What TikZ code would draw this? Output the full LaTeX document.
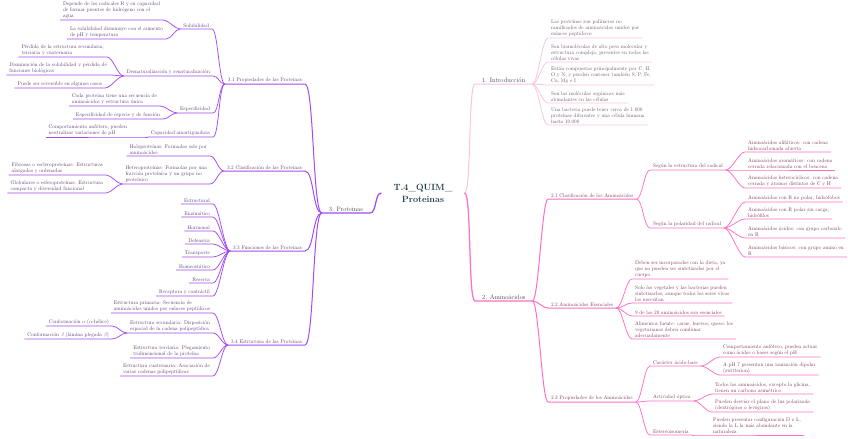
\documentclass[tikz,border=0pt]{standalone}
\usepackage{tikz}
\usetikzlibrary{positioning}
\definecolor{purl}{HTML}{A34BF0}
\definecolor{purt}{HTML}{5B3A6E}
\definecolor{pnkl}{HTML}{FF6FC3}
\definecolor{pnkt}{HTML}{7A3558}
\definecolor{lite}{HTML}{F8C3DF}
\definecolor{litt}{HTML}{6B5565}
\definecolor{corec}{HTML}{1E3A4C}
\definecolor{dark}{HTML}{3A3A3A}

\begin{document}
\begin{tikzpicture}[
    x=2pt,y=-2pt,
    hub/.style={align=center,font=\fontsize{18}{24}\selectfont\bfseries,text=corec,inner xsep=24pt},
    topl/.style={anchor=south east,align=left,font=\fontsize{13}{15}\selectfont,text=dark,inner xsep=14pt,inner ysep=3pt},
    topr/.style={topl,anchor=south west},
    lt/.style={anchor=south east,align=left,font=\fontsize{10.4}{12}\selectfont,text=purt,inner xsep=6pt,inner ysep=3pt},
    rt/.style={lt,anchor=south west,text=pnkt},
    it/.style={rt,text=litt},
    ledge/.style={draw=purl,line width=1.5pt,out=180,in=0,distance=12pt},
    redge/.style={draw=pnkl,line width=1.5pt,out=0,in=180,distance=12pt},
    iedge/.style={redge,draw=lite}
]
\useasboundingbox (0,0) rectangle (848,438);

\node[hub] (top) at (423,193) {T.4\_QUIM\_\\Proteinas};

\node[topl] (prot) at (370,213) {3. Proteinas};
\node[lt] (p31) at (305,84) {3.1 Propiedades de las Proteinas};
\node[lt] (sol) at (212,29) {Solubilidad};
\node[lt] (sol1) at (163,20) {Depende de los radicales R y su capacidad\\de formar puentes de hidrógeno con el\\agua};
\node[lt] (sol2) at (166,39) {La solubilidad disminuye con el aumento\\de pH y temperatura};
\node[lt] (des) at (213,76) {Desnaturalización y renaturalización};
\node[lt] (des1) at (107,57) {Pérdida de la estructura secundaria,\\terciaria y cuaternaria};
\node[lt] (des2) at (110,75) {Disminución de la solubilidad y pérdida de\\funciones biológicas};
\node[lt] (des3) at (105,88) {Puede ser reversible en algunos casos};
\node[lt] (esp) at (213,113) {Especificidad};
\node[lt] (esp1) at (160,106) {Cada proteína tiene una secuencia de\\aminoácidos y estructura única};
\node[lt] (esp2) at (163,119) {Especificidad de especie y de función};
\node[lt] (amo) at (213,137) {Capacidad amortiguadora};
\node[lt] (amo1) at (130,137) {Comportamiento anfótero, pueden\\neutralizar variaciones de pH};

\node[lt] (p32) at (305,171) {3.2 Clasificación de las Proteinas};
\node[lt] (holo) at (210,156) {Holoproteínas: Formadas solo por\\aminoácidos};
\node[lt] (hete) at (210,184) {Heteroproteínas: Formadas por una\\fracción proteínica y un grupo no\\proteínico};
\node[lt] (fib) at (106,175) {Fibrosas o escleroproteínas: Estructuras\\alargadas y ordenadas};
\node[lt] (glo) at (106,193) {Globulares o esferoproteínas: Estructura\\compacta y diversidad funcional};

\node[lt] (p33) at (305,251) {3.3 Funciones de las Proteinas};
\node[lt] (f1) at (213,204) {Estructural};
\node[lt] (f2) at (213,217) {Enzimático};
\node[lt] (f3) at (213,231) {Hormonal};
\node[lt] (f4) at (213,244) {Defensiva};
\node[lt] (f5) at (213,257) {Transporte};
\node[lt] (f6) at (213,270) {Homeostático};
\node[lt] (f7) at (213,283) {Reserva};
\node[lt] (f8) at (213,296) {Receptora y contráctil};

\node[lt] (p34) at (305,345) {3.4 Estructura de las Proteinas};
\node[lt] (e1) at (213,313) {Estructura primaria: Secuencia de\\aminoácidos unidos por enlaces peptídicos};
\node[lt] (e2) at (213,333) {Estructura secundaria: Disposición\\espacial de la cadena polipeptídica};
\node[lt] (e2a) at (112,326) {Conformación $\alpha$ ($\alpha$-hélice)};
\node[lt] (e2b) at (112,339) {Conformación $\beta$ (lámina plegada $\beta$)};
\node[lt] (e3) at (213,358) {Estructura terciaria: Plegamiento\\tridimensional de la proteína};
\node[lt] (e4) at (213,376) {Estructura cuaternaria: Asociación de\\varias cadenas polipeptídicas};

\node[topr] (intro) at (475,84) {1. Introducción};
\node[it] (i1) at (548,38) {Las proteínas son polímeros no\\ramificados de aminoácidos unidos por\\enlaces peptídicos};
\node[it] (i2) at (548,62) {Son biomoléculas de alto peso molecular y\\estructura compleja, presentes en todas las\\células vivas};
\node[it] (i3) at (548,85) {Están compuestas principalmente por C, H,\\O y N, y pueden contener también S, P, Fe,\\Cu, Mg e I};
\node[it] (i4) at (548,103) {Son las moléculas orgánicas más\\abundantes en las células};
\node[it] (i5) at (548,125) {Una bacteria puede tener cerca de 1.000\\proteínas diferentes y una célula humana\\hasta 10.000};

\node[topr] (amino) at (475,301) {2. Aminoácidos};
\node[rt] (a21) at (548,199) {2.1 Clasificación de los Aminoácidos};
\node[rt] (rad) at (650,170) {Según la estructura del radical};
\node[rt] (r1) at (745,152) {Aminoácidos alifáticos: con cadena\\hidrocarbonada abierta};
\node[rt] (r2) at (745,170) {Aminoácidos aromáticos: con cadena\\cerrada relacionada con el benceno};
\node[rt] (r3) at (745,188) {Aminoácidos heterocíclicos: con cadena\\cerrada y átomos distintos de C y H};
\node[rt] (pol) at (650,228) {Según la polaridad del radical};
\node[rt] (q1) at (745,202) {Aminoácidos con R no polar, hidrófobos};
\node[rt] (q2) at (745,219) {Aminoácidos con R polar sin carga,\\hidrófilos};
\node[rt] (q3) at (745,238) {Aminoácidos ácidos: con grupo carboxilo\\en R};
\node[rt] (q4) at (745,257) {Aminoácidos básicos: con grupo amino en\\R};

\node[rt] (a22) at (548,308) {2.2 Aminoácidos Esenciales};
\node[rt] (s1) at (632,279) {Deben ser incorporados con la dieta, ya\\que no pueden ser sintetizados por el\\cuerpo};
\node[rt] (s2) at (632,303) {Solo los vegetales y las bacterias pueden\\sintetizarlos, aunque todos los seres vivos\\los necesitan};
\node[rt] (s3) at (632,316) {9 de los 20 aminoácidos son esenciales};
\node[rt] (s4) at (632,339) {Alimentos fuente: carne, huevos, queso; los\\vegetarianos deben combinar\\adecuadamente};

\node[rt] (a23) at (548,402) {2.3 Propiedades de los Aminoácidos};
\node[rt] (acb) at (650,366) {Carácter ácido-base};
\node[rt] (ab1) at (720,357) {Comportamiento anfótero, pueden actuar\\como ácidos o bases según el pH};
\node[rt] (ab2) at (720,375) {A pH 7 presentan una ionización dipolar\\(zwitterion)};
\node[rt] (opt) at (650,401) {Actividad óptica};
\node[rt] (o1) at (712,394) {Todos los aminoácidos, excepto la glicina,\\tienen un carbono asimétrico};
\node[rt] (o2) at (712,412) {Pueden desviar el plano de luz polarizada\\(dextrógiros o levógiros)};
\node[rt] (est) at (650,435) {Estereoisomería};
\node[rt] (est1) at (710,435) {Pueden presentar configuración D o L,\\siendo la L la más abundante en la\\naturaleza};

\draw[ledge,line width=2.5pt,distance=14pt] (top.west) to (prot.south east) -- (prot.south west);
\draw[ledge,line width=2pt,distance=18pt] (prot.south west) to (p31.south east) -- (p31.south west);
\draw[ledge,line width=2pt,distance=18pt] (prot.south west) to (p32.south east) -- (p32.south west);
\draw[ledge,line width=2pt,distance=18pt] (prot.south west) to (p33.south east) -- (p33.south west);
\draw[ledge,line width=2pt,distance=18pt] (prot.south west) to (p34.south east) -- (p34.south west);

\draw[ledge] (p31.south west) to (sol.south east) -- (sol.south west);
\draw[ledge] (sol.south west) to (sol1.south east) -- (sol1.south west);
\draw[ledge] (sol.south west) to (sol2.south east) -- (sol2.south west);
\draw[ledge] (p31.south west) to (des.south east) -- (des.south west);
\draw[ledge] (des.south west) to (des1.south east) -- (des1.south west);
\draw[ledge] (des.south west) to (des2.south east) -- (des2.south west);
\draw[ledge] (des.south west) to (des3.south east) -- (des3.south west);
\draw[ledge] (p31.south west) to (esp.south east) -- (esp.south west);
\draw[ledge] (esp.south west) to (esp1.south east) -- (esp1.south west);
\draw[ledge] (esp.south west) to (esp2.south east) -- (esp2.south west);
\draw[ledge] (p31.south west) to (amo.south east) -- (amo.south west);
\draw[ledge] (amo.south west) to (amo1.south east) -- (amo1.south west);

\draw[ledge] (p32.south west) to (holo.south east) -- (holo.south west);
\draw[ledge] (p32.south west) to (hete.south east) -- (hete.south west);
\draw[ledge] (hete.south west) to (fib.south east) -- (fib.south west);
\draw[ledge] (hete.south west) to (glo.south east) -- (glo.south west);

\draw[ledge] (p33.south west) to (f1.south east) -- (f1.south west);
\draw[ledge] (p33.south west) to (f2.south east) -- (f2.south west);
\draw[ledge] (p33.south west) to (f3.south east) -- (f3.south west);
\draw[ledge] (p33.south west) to (f4.south east) -- (f4.south west);
\draw[ledge] (p33.south west) to (f5.south east) -- (f5.south west);
\draw[ledge] (p33.south west) to (f6.south east) -- (f6.south west);
\draw[ledge] (p33.south west) to (f7.south east) -- (f7.south west);
\draw[ledge] (p33.south west) to (f8.south east) -- (f8.south west);

\draw[ledge] (p34.south west) to (e1.south east) -- (e1.south west);
\draw[ledge] (p34.south west) to (e2.south east) -- (e2.south west);
\draw[ledge] (e2.south west) to (e2a.south east) -- (e2a.south west);
\draw[ledge] (e2.south west) to (e2b.south east) -- (e2b.south west);
\draw[ledge] (p34.south west) to (e3.south east) -- (e3.south west);
\draw[ledge] (p34.south west) to (e4.south east) -- (e4.south west);

\draw[iedge,line width=2pt,distance=14pt] (top.east) to (intro.south west) -- (intro.south east);
\draw[iedge] (intro.south east) to (i1.south west) -- (i1.south east);
\draw[iedge] (intro.south east) to (i2.south west) -- (i2.south east);
\draw[iedge] (intro.south east) to (i3.south west) -- (i3.south east);
\draw[iedge] (intro.south east) to (i4.south west) -- (i4.south east);
\draw[iedge] (intro.south east) to (i5.south west) -- (i5.south east);

\draw[redge,line width=2.5pt,distance=14pt] (top.east) to (amino.south west) -- (amino.south east);
\draw[redge,line width=2pt] (amino.south east) to (a21.south west) -- (a21.south east);
\draw[redge,line width=2pt] (amino.south east) to (a22.south west) -- (a22.south east);
\draw[redge,line width=2pt] (amino.south east) to (a23.south west) -- (a23.south east);

\draw[redge] (a21.south east) to (rad.south west) -- (rad.south east);
\draw[redge] (rad.south east) to (r1.south west) -- (r1.south east);
\draw[redge] (rad.south east) to (r2.south west) -- (r2.south east);
\draw[redge] (rad.south east) to (r3.south west) -- (r3.south east);
\draw[redge] (a21.south east) to (pol.south west) -- (pol.south east);
\draw[redge] (pol.south east) to (q1.south west) -- (q1.south east);
\draw[redge] (pol.south east) to (q2.south west) -- (q2.south east);
\draw[redge] (pol.south east) to (q3.south west) -- (q3.south east);
\draw[redge] (pol.south east) to (q4.south west) -- (q4.south east);

\draw[redge] (a22.south east) to (s1.south west) -- (s1.south east);
\draw[redge] (a22.south east) to (s2.south west) -- (s2.south east);
\draw[redge] (a22.south east) to (s3.south west) -- (s3.south east);
\draw[redge] (a22.south east) to (s4.south west) -- (s4.south east);

\draw[redge] (a23.south east) to (acb.south west) -- (acb.south east);
\draw[redge] (acb.south east) to (ab1.south west) -- (ab1.south east);
\draw[redge] (acb.south east) to (ab2.south west) -- (ab2.south east);
\draw[redge] (a23.south east) to (opt.south west) -- (opt.south east);
\draw[redge] (opt.south east) to (o1.south west) -- (o1.south east);
\draw[redge] (opt.south east) to (o2.south west) -- (o2.south east);
\draw[redge] (a23.south east) to (est.south west) -- (est.south east);
\draw[redge] (est.south east) to (est1.south west) -- (est1.south east);

\end{tikzpicture}
\end{document}
